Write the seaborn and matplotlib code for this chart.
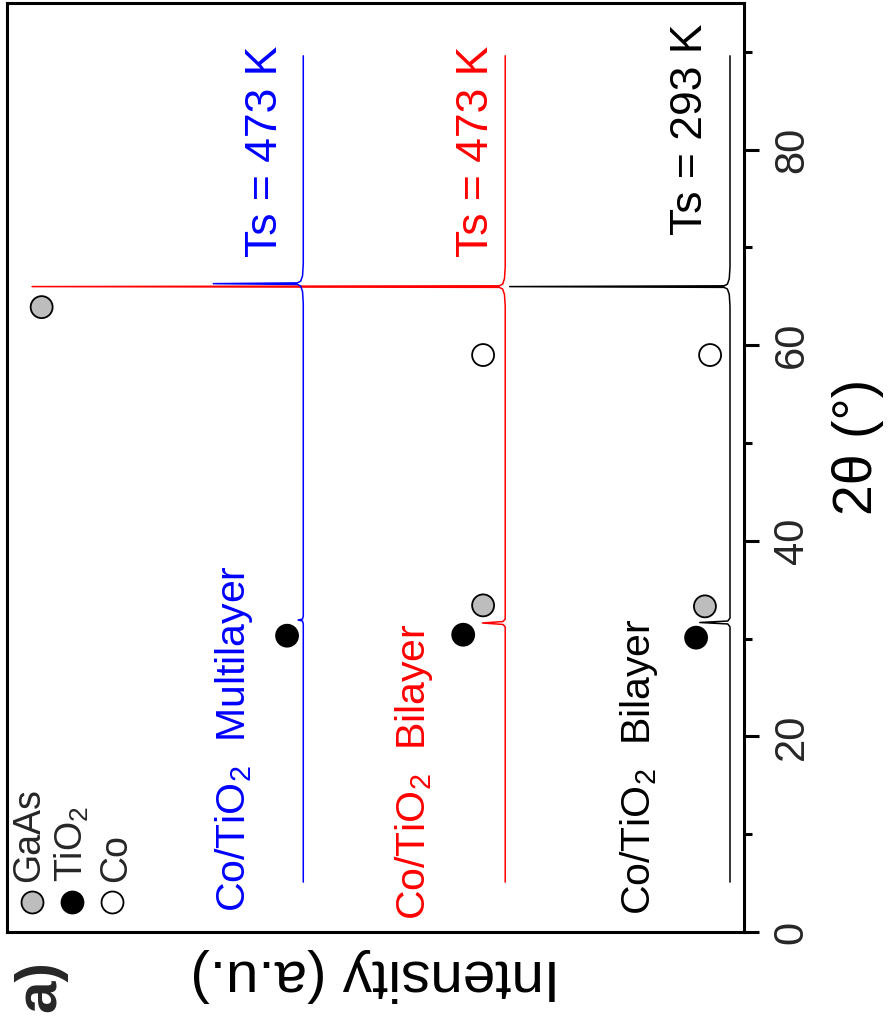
import numpy as np
import pandas as pd
import seaborn as sns
import matplotlib.pyplot as plt
from matplotlib.ticker import MultipleLocator

sns.set_theme(style="white")
plt.rcParams['font.family'] = ['Liberation Sans', 'DejaVu Sans']
plt.rcParams['mathtext.fontset'] = 'custom'
plt.rcParams['mathtext.rm'] = 'Liberation Sans'
plt.rcParams['mathtext.it'] = 'Liberation Sans:italic'
plt.rcParams['mathtext.bf'] = 'Liberation Sans:bold'

# XRD scans, 2θ in degrees, intensity stacked with offsets (a.u.)
theta_bi_293 = [5.1, 31.2, 31.5, 31.65, 31.8, 32.1, 64.0, 65.2, 65.75, 65.92, 66.0, 66.08, 66.25, 66.8, 68.0, 89.6]
int_bi_293 = [1.9, 1.9, 2.2, 6.0, 2.2, 1.9, 1.9, 2.0, 2.25, 2.7, 31.8, 2.7, 2.25, 2.0, 1.9, 1.9]

theta_bi_473 = [5.1, 31.2, 31.45, 31.6, 31.75, 32.0, 64.0, 65.2, 65.75, 65.92, 66.0, 66.08, 66.25, 66.8, 68.0, 89.6]
int_bi_473 = [32.4, 32.4, 32.7, 35.5, 32.7, 32.4, 32.4, 32.5, 32.75, 33.2, 96.6, 33.2, 32.75, 32.5, 32.4, 32.4]

theta_ml_473 = [5.1, 31.5, 31.8, 31.9, 32.0, 32.3, 64.3, 65.5, 66.05, 66.22, 66.3, 66.38, 66.55, 67.1, 68.3, 89.6]
int_ml_473 = [59.8, 59.8, 59.9, 60.5, 59.9, 59.8, 59.8, 59.9, 60.15, 60.6, 72.0, 60.6, 60.15, 59.9, 59.8, 59.8]

sample_names = ["Co/TiO2 Bilayer 293 K", "Co/TiO2 Bilayer 473 K", "Co/TiO2 Multilayer 473 K"]
sample_colors = ["black", "#ff0000", "#0000ff"]

# Indexed reflections
phase_labels = ["GaAs", "GaAs", "GaAs", "TiO2", "TiO2", "TiO2", "Co", "Co"]
phase_theta = [33.3, 33.4, 63.9, 30.1, 30.4, 30.3, 59.0, 59.0]
phase_int = [5.3, 35.4, 95.3, 6.5, 38.1, 62.0, 4.6, 35.4]
phase_colors = {"GaAs": "#bdbdbd", "TiO2": "black", "Co": "white"}

scans = pd.concat([
    pd.DataFrame({"theta": t, "intensity": i, "sample": s})
    for t, i, s in zip([theta_bi_293, theta_bi_473, theta_ml_473],
                       [int_bi_293, int_bi_473, int_ml_473], sample_names)
], ignore_index=True)
peaks = pd.DataFrame({"theta": phase_theta, "intensity": phase_int, "phase": phase_labels})

fig = plt.figure(figsize=(8.93, 10.25), dpi=100)
ax = fig.add_axes([7 / 893, 93 / 1025, 737 / 893, 929 / 1025])

sns.lineplot(data=scans, x="intensity", y="theta", hue="sample", hue_order=sample_names,
             palette=sample_colors, orient="y", estimator=None, sort=True,
             linewidth=1.1, legend=False, ax=ax)
sns.scatterplot(data=peaks, x="intensity", y="theta", hue="phase", palette=phase_colors,
                edgecolor="black", linewidth=1.3, s=250, legend=False, ax=ax, zorder=4)

ax.set_xlim(100, 0)
ax.set_ylim(0, 95)

for side in ["left", "right", "top", "bottom"]:
    ax.spines[side].set_visible(True)
    ax.spines[side].set_color("black")
    ax.spines[side].set_linewidth(2.2)

ax.set_xticks([])
ax.yaxis.set_major_locator(MultipleLocator(20))
ax.yaxis.set_minor_locator(MultipleLocator(10))
ax.tick_params(axis="y", which="both", left=False, right=True, labelleft=False,
               labelright=True, direction="out", width=2.2, color="black")
ax.tick_params(axis="y", which="major", length=11, pad=9, labelsize=30, labelrotation=90)
ax.tick_params(axis="y", which="minor", length=5.5)
for lab in ax.get_yticklabels():
    lab.set_va("center")
    lab.set_ha("left")

ax.set_xlabel("Intensity (a.u.)", fontsize=42, rotation=180, color="black")
ax.xaxis.label.set_va("center")
ax.xaxis.label.set_ha("center")
ax.xaxis.set_label_coords(0.5, -0.0463)

ax.yaxis.set_label_position("right")
ax.set_ylabel("2θ (°)", fontsize=40, rotation=90, color="black")
ax.yaxis.label.set_va("center")
ax.yaxis.label.set_ha("center")
ax.yaxis.set_label_coords(1.155, 0.522)

# Sample labels
lab_kw = dict(rotation=90, rotation_mode="anchor", ha="left", va="baseline")
ax.text(67.7, 2.05, "Co/TiO$_2$  Multilayer", color="#0000ff", fontsize=29.5, **lab_kw)
ax.text(43.3, 1.2, "Co/TiO$_2$  Bilayer", color="#ff0000", fontsize=29.5, **lab_kw)
ax.text(12.75, 1.7, "Co/TiO$_2$  Bilayer", color="black", fontsize=29.5, **lab_kw)
ax.text(63.4, 69.0, "Ts = 473 K", color="#0000ff", fontsize=32, **lab_kw)
ax.text(34.7, 69.0, "Ts = 473 K", color="#ff0000", fontsize=32, **lab_kw)
ax.text(5.7, 71.3, "Ts = 293 K", color="black", fontsize=32, **lab_kw)

# Phase key
key_x = [0.034, 0.088, 0.142]
key_text_x = [0.043, 0.103, 0.162]
key_names = ["GaAs", "TiO$_2$", "Co"]
for kx, tx, name, ph in zip(key_x, key_text_x, key_names, ["GaAs", "TiO2", "Co"]):
    ax.scatter([kx], [0.032], s=250, color=phase_colors[ph], edgecolor="black",
               linewidth=1.3, transform=ax.transAxes, zorder=4, clip_on=False)
    ax.text(tx, 0.054, name, transform=ax.transAxes, fontsize=27, **lab_kw)

fig.text(40 / 893, 1 - 986 / 1025, "a)", fontsize=42, fontweight="bold", rotation=90,
         ha="center", va="center")

fig.savefig("out.png", dpi=100, facecolor="white")
